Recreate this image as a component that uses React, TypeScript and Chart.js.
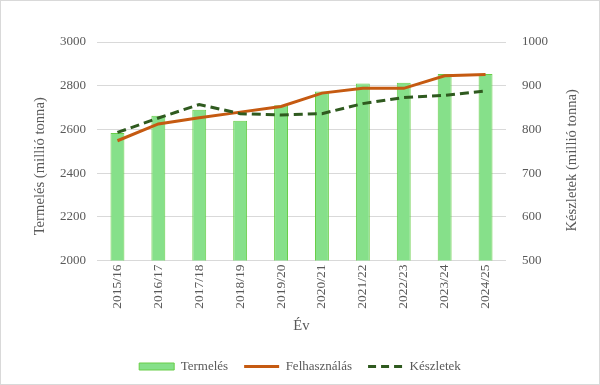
import React, { useEffect, useRef } from "react";
import { Chart, registerables } from "chart.js";

Chart.register(...registerables);

const categories = ["2015/16", "2016/17", "2017/18", "2018/19", "2019/20", "2020/21", "2021/22", "2022/23", "2023/24", "2024/25"];
const termeles = [2583, 2662, 2690, 2640, 2710, 2773, 2810, 2814, 2853, 2853];
const felhasznalas = [2548, 2625, 2653, 2679, 2705, 2766, 2788, 2788, 2845, 2851];
const keszletek = [793, 826, 857, 836, 833, 836, 859, 873, 878, 888];

const leftMin = 2000;
const leftMax = 3000;
const leftStep = 200;
const rightMin = 500;
const rightMax = 1000;
const rightStep = 100;

const seriesNames = ["Termelés", "Felhasználás", "Készletek"];
const leftTitle = "Termelés (millió tonna)";
const rightTitle = "Készletek (millió tonna)";
const xTitle = "Év";

const FONT = "'Liberation Serif', 'Times New Roman', serif";
const TEXT = "#595959";
const BAR_FILL = "rgb(134,224,138)";
const BAR_BORDER = "rgb(104,206,72)";
const ORANGE = "#c55a11";
const DARKGREEN = "#2f5a1f";

const framePlugin = {
  id: "frame",
  beforeDraw(chart: any) {
    const { ctx, width, height } = chart;
    ctx.save();
    ctx.fillStyle = "#ffffff";
    ctx.fillRect(0, 0, width, height);
    ctx.strokeStyle = "#d9d9d9";
    ctx.lineWidth = 1;
    ctx.strokeRect(0.5, 0.5, width - 1, height - 1);
    ctx.restore();
  },
  afterDraw(chart: any) {
    const { ctx, chartArea } = chart;
    const cy = (chartArea.top + chartArea.bottom) / 2 + 12;
    ctx.save();
    ctx.fillStyle = TEXT;
    ctx.font = `14.67px ${FONT}`;
    ctx.textAlign = "center";
    ctx.textBaseline = "middle";
    ctx.translate(40, cy + 3);
    ctx.rotate(-Math.PI / 2);
    ctx.fillText(leftTitle, 0, 0);
    ctx.restore();
    ctx.save();
    ctx.fillStyle = TEXT;
    ctx.font = `14.67px ${FONT}`;
    ctx.textAlign = "center";
    ctx.textBaseline = "middle";
    ctx.translate(572, cy - 3);
    ctx.rotate(-Math.PI / 2);
    ctx.fillText(rightTitle, 0, 0);
    ctx.restore();
  },
};

const plainTick = (v: any) => String(v);

export default function App() {
  const ref = useRef<HTMLCanvasElement | null>(null);

  useEffect(() => {
    document.body.style.margin = "0";
    if (!ref.current) return;
    const chart = new Chart(ref.current, {
      type: "bar",
      data: {
        labels: categories,
        datasets: [
          {
            type: "bar",
            label: seriesNames[0],
            data: termeles,
            backgroundColor: BAR_FILL,
            borderColor: BAR_BORDER,
            borderWidth: 1,
            yAxisID: "y",
            categoryPercentage: 1,
            barPercentage: 0.34,
            order: 3,
          },
          {
            type: "line",
            label: seriesNames[1],
            data: felhasznalas,
            borderColor: ORANGE,
            backgroundColor: ORANGE,
            borderWidth: 3,
            pointRadius: 0,
            tension: 0,
            yAxisID: "y",
            order: 2,
          },
          {
            type: "line",
            label: seriesNames[2],
            data: keszletek,
            borderColor: DARKGREEN,
            backgroundColor: DARKGREEN,
            borderWidth: 3,
            borderDash: [9, 5],
            pointRadius: 0,
            tension: 0,
            yAxisID: "y1",
            order: 1,
          },
        ],
      },
      options: {
        animation: false,
        responsive: true,
        maintainAspectRatio: false,
        layout: { padding: { top: 42, left: 0, right: 0, bottom: 2 } },
        plugins: {
          tooltip: { enabled: false },
          legend: {
            position: "bottom",
            labels: {
              color: TEXT,
              font: { family: FONT, size: 13 },
              usePointStyle: true,
              pointStyleWidth: 35,
              boxHeight: 7,
              padding: 16,
              generateLabels: () => [
                {
                  text: seriesNames[0],
                  fillStyle: BAR_FILL,
                  strokeStyle: BAR_BORDER,
                  lineWidth: 1,
                  pointStyle: "rect",
                  fontColor: TEXT,
                  datasetIndex: 0,
                } as any,
                {
                  text: seriesNames[1],
                  fillStyle: ORANGE,
                  strokeStyle: ORANGE,
                  lineWidth: 3,
                  pointStyle: "line",
                  fontColor: TEXT,
                  datasetIndex: 1,
                } as any,
                {
                  text: seriesNames[2],
                  fillStyle: DARKGREEN,
                  strokeStyle: DARKGREEN,
                  lineWidth: 3,
                  lineDash: [8, 5],
                  pointStyle: "line",
                  fontColor: TEXT,
                  datasetIndex: 2,
                } as any,
              ],
            },
          },
        },
        scales: {
          x: {
            grid: { display: false, drawTicks: false },
            border: { display: false },
            ticks: {
              color: TEXT,
              font: { family: FONT, size: 13.5 },
              minRotation: 90,
              maxRotation: 90,
              padding: 4,
            },
            title: {
              display: true,
              text: xTitle,
              color: TEXT,
              font: { family: FONT, size: 14.67 },
              padding: { top: 6, bottom: 8.7 },
            },
            afterFit: (s: any) => {
              s.height = 83.5;
            },
          },
          y: {
            position: "left",
            min: leftMin,
            max: leftMax,
            ticks: {
              stepSize: leftStep,
              color: TEXT,
              font: { family: FONT, size: 13 },
              padding: 11,
              callback: plainTick,
            },
            grid: { color: "#d9d9d9", drawTicks: false },
            border: { display: false },
            afterFit: (s: any) => {
              s.width = 97;
            },
          },
          y1: {
            position: "right",
            min: rightMin,
            max: rightMax,
            ticks: {
              stepSize: rightStep,
              color: TEXT,
              font: { family: FONT, size: 13 },
              padding: 16,
              callback: plainTick,
            },
            grid: { display: false, drawTicks: false },
            border: { display: false },
            afterFit: (s: any) => {
              s.width = 94;
            },
          },
        },
      },
      plugins: [framePlugin],
    } as any);
    return () => chart.destroy();
  }, []);

  return (
    <div style={{ position: "absolute", left: 0, top: 0, width: 600, height: 385 }}>
      <canvas ref={ref} />
    </div>
  );
}
